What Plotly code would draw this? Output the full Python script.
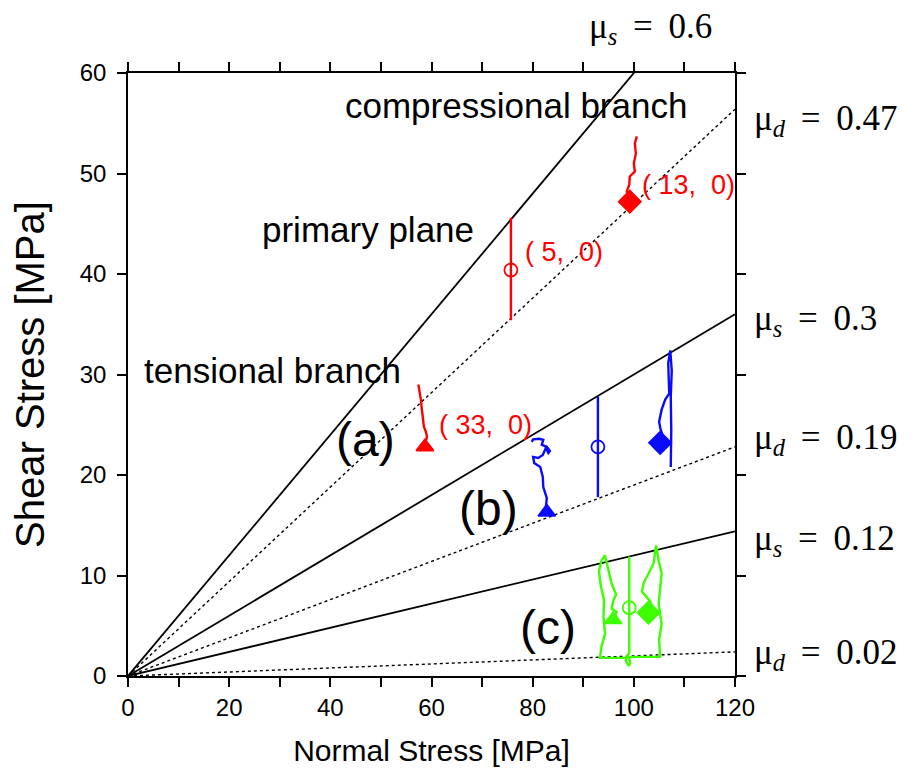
import plotly.graph_objects as go

# friction lines (static = solid, dynamic = dotted)
mu_values = [0.6, 0.47, 0.3, 0.19, 0.12, 0.02]
mu_kind = ['s', 'd', 's', 'd', 's', 'd']
sigma_ends = [0, 120]

x_ticks = [0, 20, 40, 60, 80, 100, 120]
y_ticks = [0, 10, 20, 30, 40, 50, 60]

# (a) red stress paths
red_tri_x = [57.4, 57.6, 57.9, 58.1, 58.3, 58.5, 58.9, 59.1, 58.7]
red_tri_y = [29.0, 28.5, 27.5, 26.5, 25.5, 24.8, 24.3, 23.8, 22.8]
red_circ_x = [75.7, 75.7]
red_circ_y = [45.6, 35.4]
red_dia_x = [100.6, 100.2, 100.4, 100.0, 100.2, 99.2, 99.1, 98.6, 99.2, 99.2]
red_dia_y = [53.7, 53.0, 52.0, 51.0, 50.2, 49.7, 48.9, 48.2, 47.9, 47.2]
red_marks_x = [58.7, 75.7, 99.2]
red_marks_y = [22.8, 40.4, 47.2]

# (b) blue stress paths
blue_tri_x = [79.8, 80.1, 81.3, 82.1, 81.8, 82.8, 83.4, 83.1, 82.6, 82.0, 81.1, 80.1,
              80.3, 81.5, 82.0, 82.1, 82.8, 82.6, 82.8]
blue_tri_y = [23.3, 23.55, 23.6, 23.5, 23.0, 22.8, 22.4, 22.2, 22.7, 22.0, 21.7, 21.8,
              21.2, 20.8, 19.8, 18.8, 17.7, 16.8, 16.3]
blue_circ_x = [92.9, 92.9]
blue_circ_y = [27.8, 17.8]
blue_dia_x = [107.3, 107.4, 107.3, 107.5, 107.2, 106.8, 107.0, 106.2, 105.5, 105.0, 105.3,
              105.8, 105.2]
blue_dia_y = [20.8, 24.5, 27.8, 30.4, 32.4, 31.1, 28.1, 27.5, 26.5, 25.3, 24.5, 23.8, 23.2]
blue_marks_x = [82.8, 92.9, 105.2]
blue_marks_y = [16.3, 22.8, 23.2]

# (c) green stress paths
green_loop_x = [96.0, 96.6, 95.6, 96.0, 96.5, 95.6, 95.0, 94.3, 93.6, 93.1, 93.5, 94.1,
                94.0, 94.3, 93.6, 93.3, 96.0, 97.9, 100.2, 102.5, 105.2, 105.0, 105.5,
                104.9, 105.2, 105.5, 104.9, 104.4, 103.9, 102.9, 101.9, 101.6, 102.5,
                103.3, 102.9]
green_loop_y = [5.6, 6.4, 6.7, 7.6, 8.1, 9.2, 10.5, 12.0, 11.5, 10.4, 8.9, 7.6,
                5.9, 4.2, 2.9, 1.8, 1.8, 1.8, 1.9, 1.9, 1.9, 3.6, 5.2,
                7.2, 8.9, 10.2, 11.5, 13.0, 11.2, 10.2, 9.2, 8.4, 7.9,
                7.4, 6.3]
green_circ_x = [99.1, 99.1, 98.6, 98.4, 99.0, 99.3, 99.0]
green_circ_y = [11.9, 2.3, 1.9, 1.5, 1.0, 1.3, 2.0]
green_marks_x = [95.9, 99.1, 102.9]
green_marks_y = [5.6, 6.8, 6.3]

mark_symbols = ['triangle-up', 'circle-open', 'diamond']
mark_sizes = [15, 13, 17]

RED = '#ff0000'
BLUE = '#0a0aff'
GREEN = '#3cff00'
SANS = 'Liberation Sans, Arial, sans-serif'
SERIF = 'Liberation Serif, Times New Roman, serif'

fig = go.Figure()

for mu, kind in zip(mu_values, mu_kind):
    fig.add_trace(go.Scatter(
        x=sigma_ends, y=[mu * s for s in sigma_ends], mode='lines',
        line=dict(color='black', width=1.8 if kind == 's' else 1.4,
                  dash='solid' if kind == 's' else 'dot'),
        hoverinfo='skip'))

paths = [
    (red_tri_x, red_tri_y, RED), (red_circ_x, red_circ_y, RED), (red_dia_x, red_dia_y, RED),
    (blue_tri_x, blue_tri_y, BLUE), (blue_circ_x, blue_circ_y, BLUE), (blue_dia_x, blue_dia_y, BLUE),
    (green_loop_x, green_loop_y, GREEN), (green_circ_x, green_circ_y, GREEN),
]
for px, py, col in paths:
    fig.add_trace(go.Scatter(x=px, y=py, mode='lines', line=dict(color=col, width=2.4)))

for mx, my, col in [(red_marks_x, red_marks_y, RED), (blue_marks_x, blue_marks_y, BLUE),
                    (green_marks_x, green_marks_y, GREEN)]:
    for i in range(3):
        fig.add_trace(go.Scatter(
            x=[mx[i]], y=[my[i]], mode='markers',
            marker=dict(symbol=mark_symbols[i], size=mark_sizes[i], color=col,
                        line=dict(color=col, width=1.8))))

annotations = []

# mu labels (paper coordinates, outside the plotting area)
mu_label_pos = [(0.86, 1.074, 'center'), (1.028, 0.922, 'left'), (1.028, 0.59, 'left'),
                (1.028, 0.392, 'left'), (1.028, 0.225, 'left'), (1.028, 0.035, 'left')]
for mu, kind, (ax_, ay_, anc) in zip(mu_values, mu_kind, mu_label_pos):
    annotations.append(dict(
        x=ax_, y=ay_, xref='paper', yref='paper', xanchor=anc, yanchor='middle', showarrow=False,
        text='\u03bc<sub><i>%s</i></sub>\u2009 = \u2009%s' % (kind, mu),
        font=dict(family=SERIF, size=35, color='black')))

# branch labels
for txt, tx, ty in [('compressional branch', 76.7, 56.8), ('primary plane', 47.4, 44.4),
                    ('tensional branch', 28.5, 30.4)]:
    annotations.append(dict(x=tx, y=ty, xref='x', yref='y', showarrow=False, text=txt,
                            font=dict(family=SANS, size=35, color='black')))

# panel labels
for txt, tx, ty in [('(a)', 46.9, 23.5), ('(b)', 71.2, 16.7), ('(c)', 83.0, 4.8)]:
    annotations.append(dict(x=tx, y=ty, xref='x', yref='y', showarrow=False, text=txt,
                            font=dict(family=SANS, size=48, color='black')))

# red coordinate labels
for txt, tx, ty in [('( 33,  0)', 61.1, 25.0), ('( 5,  0)', 78.1, 42.2), ('( 13,  0)', 101.2, 48.9)]:
    annotations.append(dict(x=tx, y=ty, xref='x', yref='y', xanchor='left', showarrow=False,
                            text=txt, font=dict(family=SANS, size=27, color=RED)))

tick_style = dict(ticks='outside', ticklen=9, tickwidth=1.5, tickcolor='black',
                  showline=True, linecolor='black', linewidth=1.6, mirror='ticks',
                  showgrid=False, zeroline=False)

fig.update_layout(
    width=916, height=776,
    margin=dict(l=120, r=189, t=65, b=108),
    plot_bgcolor='white', paper_bgcolor='white',
    showlegend=False,
    annotations=annotations,
    xaxis=dict(range=[0, 120], tickvals=x_ticks,
               minor=dict(dtick=10, ticks='outside', ticklen=9, tickwidth=1.5, tickcolor='black',
                          showgrid=False),
               tickfont=dict(family=SANS, size=24, color='black'),
               title=dict(text='Normal Stress [MPa]', font=dict(family=SANS, size=30, color='black'),
                          standoff=20),
               **tick_style),
    yaxis=dict(range=[0, 60], tickvals=y_ticks, ticklabelstandoff=6,
               tickfont=dict(family=SANS, size=24, color='black'),
               title=dict(text='Shear Stress [MPa]', font=dict(family=SANS, size=40, color='black'),
                          standoff=24),
               **tick_style),
)

fig.write_html("out.html")
